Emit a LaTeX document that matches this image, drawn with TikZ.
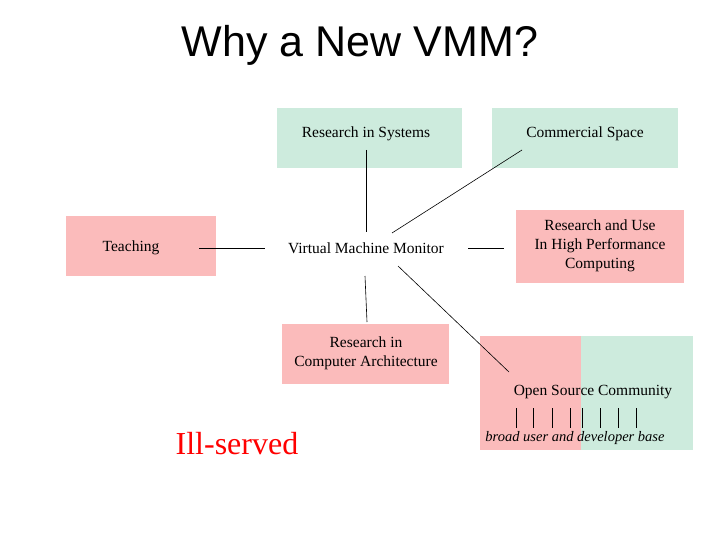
\documentclass[tikz,border=0pt]{standalone}
\usepackage{fontspec}
\setmainfont{Liberation Serif}
\newfontfamily\ttl{Liberation Sans}
\newfontfamily\srf{Liberation Serif}
\definecolor{pk}{HTML}{FBBBBB}
\definecolor{gr}{HTML}{CDEBDD}
\begin{document}
\begin{tikzpicture}[x=1pt,y=-1pt,
 t/.style={font=\srf\fontsize{15.5}{19}\selectfont,align=center,inner sep=0},
 ln/.style={draw=black,line width=0.6pt}]
\useasboundingbox[fill=white] (0,0) rectangle (720,540);
\node[font=\ttl\fontsize{43}{46}\selectfont] (title) at (360,45) {Why a New VMM?};
\fill[gr] (277,108) rectangle (462,168);
\fill[gr] (492,108) rectangle (678,168);
\fill[pk] (66,216) rectangle (216,276);
\fill[pk] (516,210) rectangle (684,283);
\fill[pk] (282,324) rectangle (449,384);
\fill[pk] (480,336) rectangle (581,450);
\fill[gr] (581,336) rectangle (693,450);
\node[t] (rs) at (366,134) {Research in Systems};
\node[t] (cs) at (585,134) {Commercial Space};
\node[t] (te) at (131,248) {Teaching};
\node[t] (vmm) at (366,248) {Virtual Machine Monitor};
\node[t] (hpc) at (600,246) {Research and Use\\In High Performance\\Computing};
\node[t] (ca) at (366,353) {Research in\\Computer Architecture};
\node[t] (os) at (593,392) {Open Source Community};
\node[t,font=\srf\itshape\fontsize{14.5}{16}\selectfont] (bu) at (575,438) {broad user and developer base};
\node[t,text=red,font=\srf\fontsize{32}{34}\selectfont] (ill) at (237,444) {Ill-served};
\coordinate (a1) at (366,150); \coordinate (a2) at (366,232);
\coordinate (b1) at (392,233); \coordinate (b2) at (522,150);
\coordinate (c1) at (199,248); \coordinate (c2) at (265,248);
\coordinate (d1) at (468,248); \coordinate (d2) at (504,248);
\coordinate (e1) at (365,276); \coordinate (e2) at (367,322);
\coordinate (f1) at (398,266); \coordinate (f2) at (509,372);
\draw[ln] (a1)--(a2); \draw[ln] (b1)--(b2); \draw[ln] (c1)--(c2);
\draw[ln] (d1)--(d2); \draw[ln] (e1)--(e2); \draw[ln] (f1)--(f2);
\foreach \x in {516,533,552,570,582,600,618,636}
  \draw[ln] (\x,408) -- (\x,428);
\end{tikzpicture}
\end{document}
